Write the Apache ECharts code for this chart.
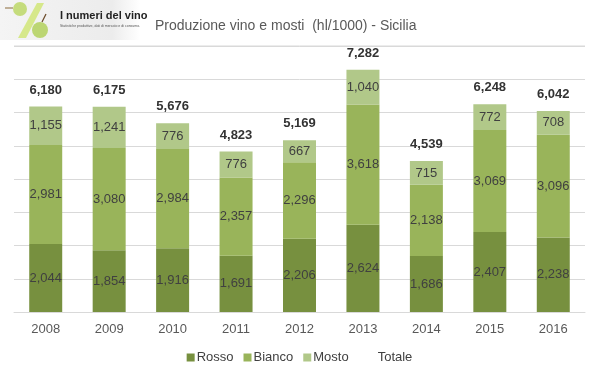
<!DOCTYPE html>
<html><head><meta charset="utf-8">
<script src="https://cdn.jsdelivr.net/npm/echarts@6/dist/echarts.min.js"></script>
<style>html,body{margin:0;padding:0;background:#fff}#c{width:599px;height:378px}</style>
</head><body><div id="c"></div>
<script>
const years = ['2008','2009','2010','2011','2012','2013','2014','2015','2016'];
const rosso = [2044,1854,1916,1691,2206,2624,1686,2407,2238];
const bianco = [2981,3080,2984,2357,2296,3618,2138,3069,3096];
const mosto = [1155,1241,776,776,667,1040,715,772,708];
const totale = [6180,6175,5676,4823,5169,7282,4539,6248,6042];

const FONT = 'Liberation Sans, Arial, sans-serif';
const fmt = v => Number(v).toLocaleString('en-US');
const inLabel = {show:true, position:'inside', color:'#404040', fontSize:13, fontFamily:FONT, formatter:p=>fmt(p.value)};

const chart = echarts.init(document.getElementById('c'), null, {renderer:'canvas'});
chart.setOption({
  animation:false,
  textStyle:{fontFamily:FONT},
  title:{text:'Produzione vino e mosti  (hl/1000) - Sicilia', left:150, top:14,
    textStyle:{fontSize:14, fontWeight:'normal', color:'#595959', fontFamily:FONT}},
  graphic:[
    {type:'rect', left:0, top:0, shape:{width:140, height:40},
      style:{fill:new echarts.graphic.LinearGradient(0,0,1,0,[{offset:0,color:'#f4f4f4'},{offset:0.8,color:'#ececec'},{offset:1,color:'#ffffff'}])}},
    {type:'polygon', shape:{points:[[18,38],[26,38],[44,3],[37,3]]}, style:{fill:'#d6e88a'}},
    {type:'circle', shape:{cx:20, cy:9, r:7}, style:{fill:'#c5dc7c'}},
    {type:'line', shape:{x1:5,y1:8,x2:13,y2:8}, style:{stroke:'#8a6a3a', lineWidth:1}},
    {type:'circle', shape:{cx:40, cy:30, r:8}, style:{fill:'#bcd673'}},
    {type:'line', shape:{x1:42,y1:22,x2:46,y2:14}, style:{stroke:'#6b4a2a', lineWidth:1.2}},
    {type:'text', left:60, top:10, style:{text:'I numeri del vino', fontSize:11, fontWeight:'bold', fill:'#222', fontFamily:'Liberation Sans Narrow, Arial Narrow, '+FONT}},
    {type:'text', left:60, top:24, style:{text:'Statistiche produttive, dati di mercato e di consumo.', fontSize:3.5, fill:'#555', fontFamily:FONT}},
    {type:'line', shape:{x1:14,y1:46,x2:585,y2:46}, style:{stroke:'#d9d9d9', lineWidth:1}}
  ],
  legend:{bottom:9, left:'center', itemWidth:8, itemHeight:8, itemGap:10,
    icon:'rect', textStyle:{fontSize:13, color:'#404040', fontFamily:FONT, padding:[0,0,0,-3]},
    data:['Rosso','Bianco','Mosto',{name:'Totale', textStyle:{padding:[0,0,0,6]}}]},
  grid:{left:14, right:14, top:46, bottom:66},
  xAxis:{type:'category', data:years,
    axisLine:{lineStyle:{color:'#d9d9d9'}}, axisTick:{show:false},
    axisLabel:{color:'#595959', fontSize:13, margin:11, fontFamily:FONT}},
  yAxis:{type:'value', min:0, max:8000, interval:1000, axisLabel:{show:false},
    axisLine:{show:false}, axisTick:{show:false},
    splitLine:{lineStyle:{color:'#d9d9d9'}}},
  series:[
    {name:'Rosso', type:'bar', stack:'t', data:rosso, barWidth:'52%', itemStyle:{color:'#77903f'}, label:inLabel},
    {name:'Bianco', type:'bar', stack:'t', data:bianco, itemStyle:{color:'#99b45a'}, label:inLabel},
    {name:'Mosto', type:'bar', stack:'t', data:mosto, itemStyle:{color:'#b1c889'}, label:inLabel},
    {name:'Totale', type:'bar', data:totale, barGap:'-100%', barWidth:'52%', z:0,
      itemStyle:{color:'rgba(0,0,0,0)'},
      label:{show:true, position:'top', distance:10, color:'#333', fontSize:13, fontWeight:'bold', fontFamily:FONT, formatter:p=>fmt(p.value)}}
  ]
});
</script></body></html>
